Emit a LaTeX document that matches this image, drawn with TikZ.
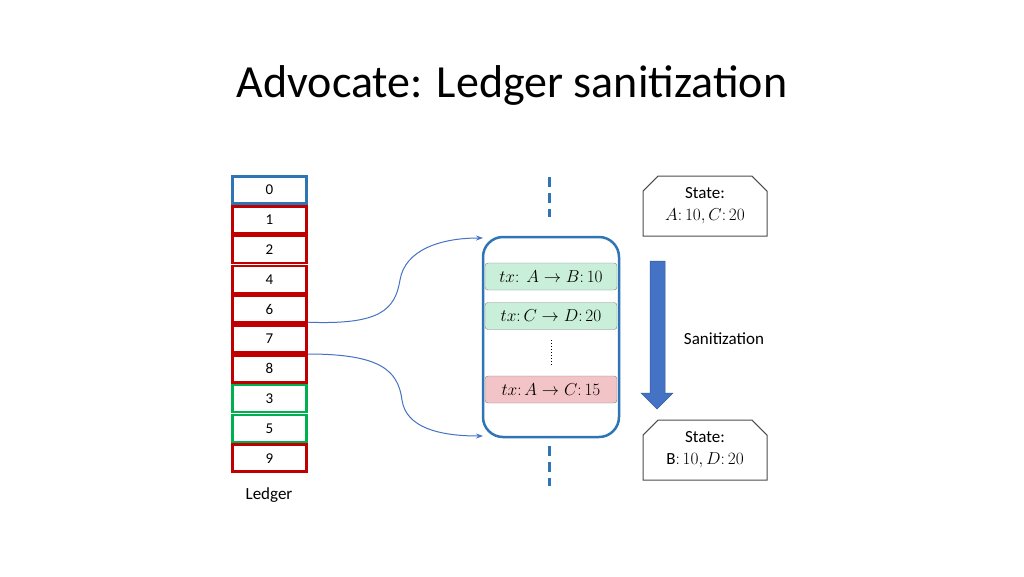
\documentclass[tikz,border=0pt]{standalone}
\usepackage{fontspec}
\setmainfont{Carlito}
\usetikzlibrary{shapes.misc,arrows.meta}
\definecolor{lblue}{HTML}{2E75B6}
\definecolor{lred}{HTML}{C00000}
\definecolor{lgreen}{HTML}{00B050}
\definecolor{agreen}{HTML}{C9EED9}
\definecolor{ared}{HTML}{F2C4C8}
\definecolor{arr}{HTML}{4472C4}
\tikzset{cell/.style={draw=#1,line width=2.5pt,minimum width=74pt,minimum height=27pt,inner sep=0pt,font=\fontsize{15}{17}\selectfont},
txbox/.style={draw=gray,fill=#1,rounded corners=3pt,minimum width=132pt,minimum height=27pt,inner sep=0pt,font=\fontsize{18}{20}\selectfont},
statebox/.style={draw=black!70,line width=1pt,chamfered rectangle,chamfered rectangle corners={north west,north east},chamfered rectangle xsep=12pt,minimum width=124pt,minimum height=60pt,inner sep=0pt,align=center,font=\fontsize{17}{22}\selectfont},
conn/.style={draw=arr,line width=1pt,-{Stealth[length=7pt,width=5pt]}}}
\begin{document}
\begin{tikzpicture}[x=1pt,y=-1pt]
\useasboundingbox (0,0) rectangle (1024,576);
\node (title) at (512,85) {\fontsize{46}{52}\selectfont Advocate: Ledger sanitization};
\foreach \l/\c [count=\i from 0] in {0/lblue,1/lred,2/lred,4/lred,6/lred,7/lred,8/lred,3/lgreen,5/lgreen,9/lred}{
  \node[cell=\c] (c\i) at (269.5,190+29.8*\i) {\l};
}
\node (ledger) at (269,495) {\fontsize{17}{19}\selectfont Ledger};
\node[draw=lblue,line width=2.5pt,rounded corners=20pt,minimum width=136pt,minimum height=200pt] (blk) at (551,337) {};
\node[txbox=agreen] (t1) at (551,276.5) {$tx\colon\ A\rightarrow B\colon 10$};
\node[txbox=agreen] (t2) at (551,316) {$tx\colon C\rightarrow D\colon 20$};
\node[txbox=ared] (t3) at (551,389.5) {$tx\colon A\rightarrow C\colon 15$};
\draw[dotted,line width=1pt] (551,340) -- (551,366);
\draw[lblue,line width=3pt,dash pattern=on 10pt off 6pt] (549,177) -- (549,217);
\draw[lblue,line width=3pt,dash pattern=on 10pt off 6pt] (549,446) -- (549,486);
\node[statebox] (s1) at (705,206) {State:\\$A\colon 10, C\colon 20$};
\node[statebox] (s2) at (705,450) {State:\\B$\colon 10, D\colon 20$};
\fill[arr,draw=arr!80!black,line width=0.5pt] (650,261) -- (665,261) -- (665,393) -- (673,393) -- (657,409) -- (641,393) -- (650,393) -- cycle;
\node (san) at (724,339) {\fontsize{17}{19}\selectfont Sanitization};
\draw[conn] (c4.east) ++(0,13) .. controls (380,325) and (395,310) .. (400,280) .. controls (405,250) and (440,238) .. (483,238);
\draw[conn] (c5.east) ++(0,15) .. controls (380,354) and (398,370) .. (402,400) .. controls (406,428) and (440,436) .. (483,436);
\end{tikzpicture}
\end{document}
